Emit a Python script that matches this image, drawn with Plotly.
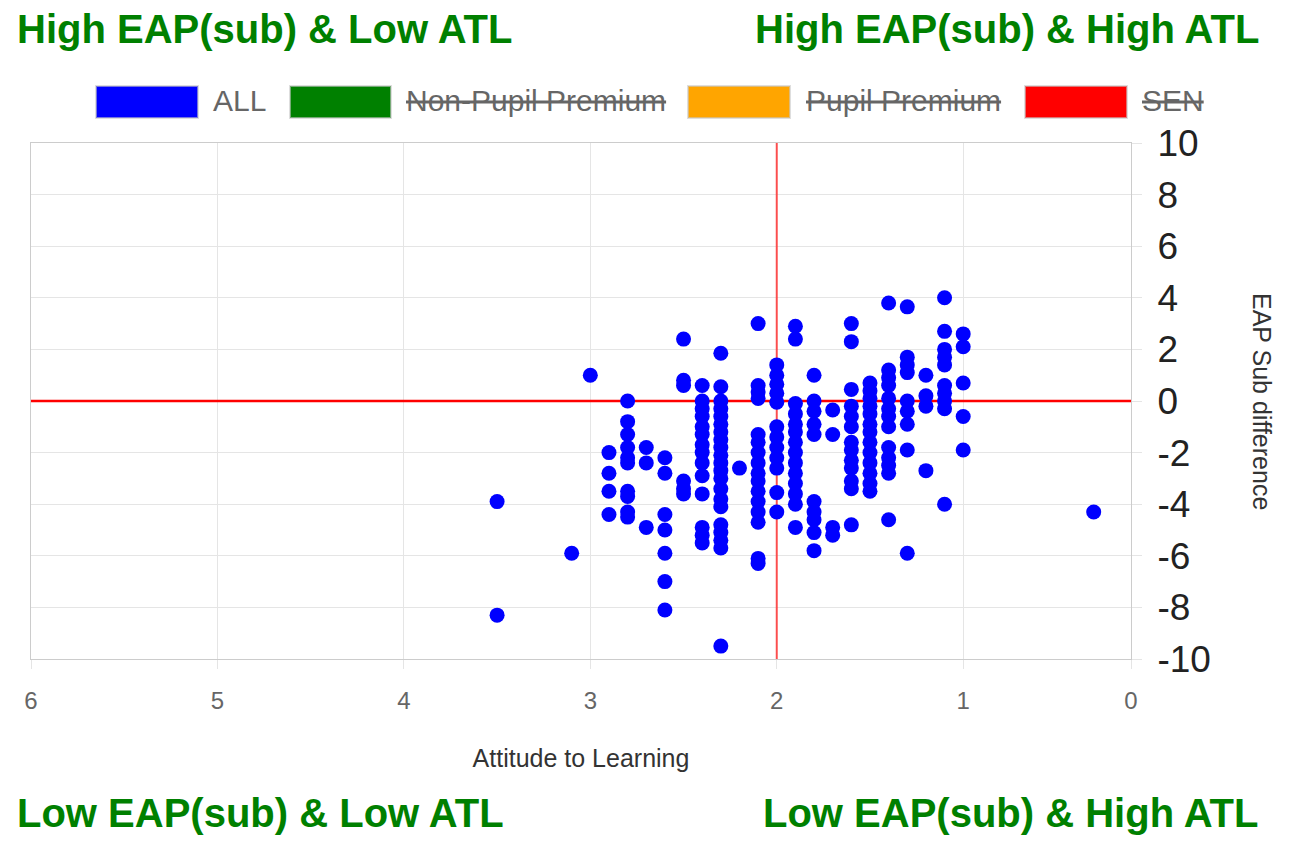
import plotly.graph_objects as go

# ---------------- data ----------------
atl = (
    [3.5] * 2 + [3.1] + [3.0] + [2.9] * 4 + [2.8] * 10 + [2.7] * 3 + [2.6] * 7 + [2.5] * 6
    + [2.4] * 14 + [2.3] * 21 + [2.2] + [2.1] * 16 + [2.0] * 12 + [1.9] * 14 + [1.8] * 10
    + [1.7] * 4 + [1.6] * 13 + [1.5] * 13 + [1.4] * 13 + [1.3] * 9 + [1.2] * 4 + [1.1] * 10
    + [1.0] * 5 + [0.3]
)
eap = [
    -3.9, -8.3,
    -5.9,
    1.0,
    -2.0, -2.8, -3.5, -4.4,
    0.0, -0.8, -1.3, -1.8, -2.2, -2.4, -3.5, -3.7, -4.3, -4.5,
    -1.8, -2.4, -4.9,
    -2.2, -2.8, -4.4, -5.0, -5.9, -7.0, -8.1,
    2.4, 0.8, 0.6, -3.1, -3.4, -3.6,
    0.6, 0.0, -0.3, -0.6, -1.0, -1.3, -1.7, -2.0, -2.4, -2.9, -3.6, -4.9, -5.2, -5.5,
    1.85, 0.55, 0.0, -0.3, -0.6, -0.9, -1.2, -1.5, -1.8, -2.1, -2.4, -2.7, -3.0, -3.4, -3.8,
    -4.1, -4.8, -5.1, -5.4, -5.7, -9.5,
    -2.6,
    3.0, 0.6, 0.35, 0.1, -1.3, -1.6, -2.0, -2.4, -2.8, -3.1, -3.5, -3.9, -4.3, -4.7, -6.1, -6.3,
    1.4, 1.0, 0.65, 0.3, -0.05, -1.0, -1.4, -1.8, -2.2, -2.6, -3.55, -4.3,
    2.9, 2.4, -0.1, -0.5, -0.9, -1.2, -1.6, -2.0, -2.4, -2.8, -3.2, -3.6, -4.0, -4.9,
    1.0, 0.0, -0.4, -0.9, -1.3, -3.9, -4.3, -4.6, -5.1, -5.8,
    -0.35, -1.3, -4.9, -5.2,
    3.0, 2.3, 0.45, -0.2, -0.6, -1.0, -1.6, -1.9, -2.3, -2.6, -3.1, -3.4, -4.8,
    0.7, 0.4, 0.1, -0.2, -0.5, -0.9, -1.2, -1.6, -2.0, -2.4, -2.8, -3.2, -3.5,
    3.8, 1.2, 0.9, 0.6, 0.1, -0.3, -0.6, -1.0, -1.8, -2.2, -2.5, -2.8, -4.6,
    3.65, 1.7, 1.4, 1.1, 0.0, -0.4, -0.9, -1.9, -5.9,
    1.0, 0.2, -0.2, -2.7,
    4.0, 2.7, 2.0, 1.7, 1.4, 0.6, 0.3, 0.0, -0.3, -4.0,
    2.6, 2.1, 0.7, -0.6, -1.9,
    -4.3,
]

x_tickvals = [6, 5, 4, 3, 2, 1, 0.1]
x_ticktext = ["6", "5", "4", "3", "2", "1", "0"]
y_tickvals = [-10, -8, -6, -4, -2, 0, 2, 4, 6, 8, 10]
y_ticktext = ["-10", "-8", "-6", "-4", "-2", "0", "2", "4", "6", "8", "10"]

x_range = [6, 0.1]
y_range = [-10, 10]
atl_threshold = 2
eap_threshold = 0

legend_names = ["ALL", "Non-Pupil Premium", "Pupil Premium", "SEN"]
legend_colors = ["#0000ff", "#008000", "#ffa500", "#ff0000"]
legend_hidden = [False, True, True, True]

quadrant_labels = [
    "High EAP(sub) & Low ATL",
    "High EAP(sub) & High ATL",
    "Low EAP(sub) & Low ATL",
    "Low EAP(sub) & High ATL",
]

# ---------------- figure ----------------
FONT = "Liberation Sans, Arial, sans-serif"
OFF = 8                      # page body margin of the html page
W, H = 1291 - 2 * OFF, 843 - 2 * OFF
# plot area in reference-page pixels: x 31..1131, y 143..659
ML = 31 - OFF
MT = 143 - OFF
MR = W - (1131 - OFF)
MB = H - (659 - OFF)
PW, PH = W - ML - MR, H - MT - MB


def px_to_paper_x(px):
    return (px - OFF - ML) / PW


def px_to_paper_y(py):
    return (H - MB - (py - OFF)) / PH


fig = go.Figure()

# threshold lines (drawn first so markers sit on top)
fig.add_trace(go.Scatter(x=[atl_threshold, atl_threshold], y=y_range, mode="lines",
                         line=dict(color="rgba(255,40,40,0.8)", width=2),
                         hoverinfo="skip", showlegend=False))
fig.add_trace(go.Scatter(x=x_range, y=[eap_threshold, eap_threshold], mode="lines",
                         line=dict(color="#ff0000", width=2.5),
                         hoverinfo="skip", showlegend=False))

fig.add_trace(
    go.Scatter(
        x=atl,
        y=eap,
        mode="markers",
        name="ALL",
        marker=dict(size=15, color="#0000ff", line=dict(width=0)),
        showlegend=False,
    )
)

# custom legend (ALL shown, others struck through as hidden)
box_x = [(96, 198), (290, 391), (688, 790), (1025, 1127)]
text_x = [211, 404, 804, 1140]
for name, col, hid, (bx0, bx1), tx in zip(legend_names, legend_colors, legend_hidden, box_x, text_x):
    fig.add_shape(type="rect", xref="paper", yref="paper",
                  x0=px_to_paper_x(bx0), x1=px_to_paper_x(bx1),
                  y0=px_to_paper_y(118), y1=px_to_paper_y(86),
                  fillcolor=col, line=dict(color="rgba(200,200,200,0.6)", width=2))
    label = f"<s>{name}</s>" if hid else name
    fig.add_annotation(xref="paper", yref="paper", x=px_to_paper_x(tx), y=px_to_paper_y(100),
                       xanchor="left", yanchor="middle", text=label, showarrow=False,
                       font=dict(family=FONT, size=30, color="#666666"))

# quadrant labels
q_pos = [
    (15, "left", 29),
    (1261, "right", 29),
    (15, "left", 813),
    (1261, "right", 813),
]
for txt, (qx, anc, qy) in zip(quadrant_labels, q_pos):
    fig.add_annotation(xref="paper", yref="paper", x=px_to_paper_x(qx), y=px_to_paper_y(qy),
                       xanchor=anc, yanchor="middle", text=f"<b>{txt}</b>", showarrow=False,
                       font=dict(family=FONT, size=40, color="#008000"))

# y axis title (reads top-to-bottom)
fig.add_annotation(xref="paper", yref="paper", x=px_to_paper_x(1262), y=px_to_paper_y(401),
                   xanchor="center", yanchor="middle", text="EAP Sub difference", textangle=90,
                   showarrow=False, font=dict(family=FONT, size=25, color="#333333"))

fig.update_layout(
    width=W,
    height=H,
    margin=dict(l=ML, r=MR, t=MT, b=MB, pad=0),
    paper_bgcolor="white",
    plot_bgcolor="white",
    showlegend=False,
    font=dict(family=FONT),
    xaxis=dict(
        range=x_range,
        tickvals=x_tickvals,
        ticktext=x_ticktext,
        showgrid=True,
        gridcolor="#e5e5e5",
        gridwidth=1,
        zeroline=False,
        showline=True,
        linecolor="#cccccc",
        mirror=True,
        ticks="outside",
        ticklen=9,
        tickcolor="#e5e5e5",
        ticklabelstandoff=11,
        tickfont=dict(family=FONT, size=24, color="#666666"),
        title=dict(text="Attitude to Learning", font=dict(family=FONT, size=25, color="#333333"),
                   standoff=36),
    ),
    yaxis=dict(
        range=y_range,
        tickvals=y_tickvals,
        ticktext=y_ticktext,
        side="right",
        showgrid=True,
        gridcolor="#e5e5e5",
        gridwidth=1,
        zeroline=False,
        showline=True,
        linecolor="#cccccc",
        mirror=True,
        ticks="outside",
        ticklen=10,
        tickcolor="#e5e5e5",
        ticklabelstandoff=8,
        tickfont=dict(family=FONT, size=37, color="#222222"),
    ),
)

fig.write_html("out.html")
